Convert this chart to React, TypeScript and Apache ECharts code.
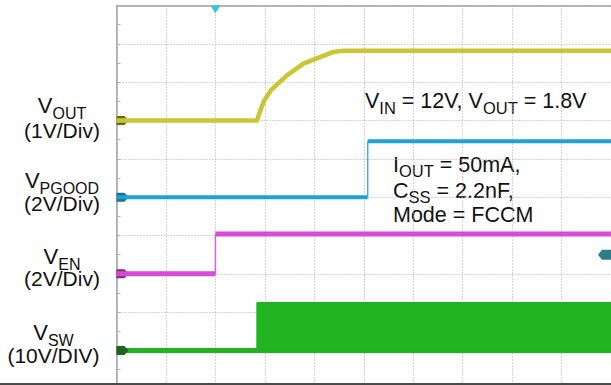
import React, { useEffect, useRef } from "react";
import * as echarts from "echarts";

// ---- Data (time in divisions, level in divisions from bottom grid line) ----
const voutTime = [0, 2.84, 2.92, 2.99, 3.13, 3.46, 3.79, 4.13, 4.39, 4.59, 10];
const voutLevel = [7.0, 7.0, 7.3, 7.53, 7.8, 8.19, 8.49, 8.66, 8.79, 8.82, 8.82];

const pgoodTime = [0, 5.08, 5.08, 10];
const pgoodLevel = [5.0, 5.0, 6.46, 6.46];

const enTime = [0, 2.0, 2.0, 10];
const enLevel = [3.0, 3.0, 4.04, 4.04];

const swTime = [0, 2.84, 2.84];
const swLevel = [1.0, 1.0, 2.25];
const swBurstTime = [2.84, 10];
const swBurstHigh = [2.25, 2.25];
const swBurstLow = [1.0, 1.0];

const groundLevels = [7, 5, 3, 1];
const triggerTime = 2.0;
const triggerLevel = 3.5;

const FONT = "Arial, 'Liberation Sans', Helvetica, sans-serif";
const TRACE_COLORS = ["#c9c631", "#1ea0d8", "#d94ad9", "#22b322"];
const TAG_COLORS = ["#6a6a1c", "#1f6f90", "#7a2c7a", "#1c631c"];

let measureCtx: CanvasRenderingContext2D | null = null;
function textWidth(t: string, size: number) {
  if (!measureCtx) measureCtx = document.createElement("canvas").getContext("2d");
  measureCtx!.font = `${size}px ${FONT}`;
  return measureCtx!.measureText(t).width;
}

type Seg = [string, number, number];
function runs(segs: Seg[], x: number, baseline: number, anchor: "left" | "center") {
  const widths = segs.map((s) => textWidth(s[0], s[1]));
  const total = widths.reduce((a, b) => a + b, 0);
  let cx = anchor === "center" ? x - total / 2 : x;
  return segs.map((s, i) => {
    const el = {
      type: "text",
      silent: true,
      style: {
        text: s[0],
        x: cx,
        y: baseline + s[2] - 0.3465 * s[1],
        font: `${s[1]}px ${FONT}`,
        fill: "#111",
        align: "left",
        verticalAlign: "middle",
        textAlign: "left",
        textVerticalAlign: "middle",
      },
    };
    cx += widths[i];
    return el;
  });
}

function traceSeries(time: number[], level: number[], color: string, thick: number, z: number) {
  const out: any[] = [];
  let run: number[][] = [[time[0], level[0]]];
  const flush = () => {
    if (run.length > 1) {
      out.push({
        type: "line", data: run, symbol: "none", silent: true, z,
        lineStyle: { color, width: thick, cap: "butt", join: "round" },
      });
    }
  };
  for (let i = 1; i < time.length; i++) {
    if (time[i] === time[i - 1]) {
      flush();
      out.push({
        type: "line", data: [[time[i - 1], level[i - 1]], [time[i], level[i]]], symbol: "none", silent: true, z: z - 1,
        lineStyle: { color, width: 1.5, opacity: 0.85 },
      });
      run = [[time[i], level[i]]];
    } else {
      run.push([time[i], level[i]]);
    }
  }
  flush();
  return out;
}

const tagRight = "path://M0,0 L8,0 L12,4.5 L8,9 L0,9 Z";
const tagLeft = "path://M4,0 L14,0 L14,10 L4,10 L0,5 Z";

export default function App() {
  const ref = useRef<HTMLDivElement>(null);
  useEffect(() => {
    if (!ref.current) return;
    const chart = echarts.init(ref.current, undefined, { renderer: "svg" });

    const series: any[] = [];
    // switching burst block
    series.push({
      type: "line",
      data: swBurstTime.map((t, i) => [t, swBurstHigh[i]]),
      symbol: "none", silent: true, z: 2,
      lineStyle: { color: "#1fae1f", width: 1 },
      areaStyle: { color: "#22b522", opacity: 1, origin: swBurstLow[0] },
    });
    series.push({
      type: "line",
      data: swBurstTime.map((t, i) => [t, swBurstLow[i]]),
      symbol: "none", silent: true, z: 3,
      lineStyle: { color: TRACE_COLORS[3], width: 5 },
    });
    series.push(...traceSeries(swTime, swLevel, TRACE_COLORS[3], 5, 4));
    series.push(...traceSeries(enTime, enLevel, TRACE_COLORS[2], 5, 5));
    series.push(...traceSeries(pgoodTime, pgoodLevel, TRACE_COLORS[1], 4, 6));
    series.push(...traceSeries(voutTime, voutLevel, TRACE_COLORS[0], 4.5, 7));

    // channel ground tags and trigger markers
    series.push({
      type: "scatter",
      silent: true,
      z: 10,
      data: [],
      markPoint: {
        silent: true,
        label: { show: false },
        data: [
          ...groundLevels.map((g, i) => ({
            coord: [0, g], symbol: tagRight, symbolSize: [12, 9], symbolOffset: [6, 0],
            itemStyle: { color: TAG_COLORS[i] },
          })),
          {
            coord: [triggerTime, 10], symbol: "triangle", symbolRotate: 180, symbolSize: [10, 8], symbolOffset: [0, 4],
            itemStyle: { color: "#37c8d8" },
          },
          {
            coord: [10, triggerLevel], symbol: tagLeft, symbolSize: [14, 10], symbolOffset: [-6, 0],
            itemStyle: { color: "#2c7e86" },
          },
        ],
      },
    });

    const graphic: any[] = [
      ...runs([["V", 22, 0], ["OUT", 16, 6]], 62, 113, "center"),
      ...runs([["(1V/Div)", 21, 0]], 62, 138, "center"),
      ...runs([["V", 22, 0], ["PGOOD", 16, 6]], 62, 188.5, "center"),
      ...runs([["(2V/Div)", 21, 0]], 62, 211, "center"),
      ...runs([["V", 22, 0], ["EN", 16, 6]], 62, 264, "center"),
      ...runs([["(2V/Div)", 21, 0]], 62, 286, "center"),
      ...runs([["V", 22, 0], ["SW", 16, 6]], 53.5, 340, "center"),
      ...runs([["(10V/DIV)", 21, 0]], 53.5, 362.5, "center"),
      ...runs([["V", 21.5, 0], ["IN", 16.5, 5], [" = 12V, V", 21.5, 0], ["OUT", 16.5, 5], [" = 1.8V", 21.5, 0]], 365, 108.5, "left"),
      ...runs([["I", 21.5, 0], ["OUT", 16.5, 5], [" = 50mA,", 21.5, 0]], 393, 172, "left"),
      ...runs([["C", 21.5, 0], ["SS", 16.5, 5], [" = 2.2nF,", 21.5, 0]], 393, 198, "left"),
      ...runs([["Mode = FCCM", 21.5, 0]], 393, 222.7, "left"),
    ];

    const gridLine = { show: true, lineStyle: { color: "#a9a9a9", type: [1, 2], width: 1 } };
    chart.setOption({
      animation: false,
      backgroundColor: "#ffffff",
      grid: { left: 116.5, top: 5.5, width: 500, height: 383.3, containLabel: false },
      xAxis: {
        type: "value", min: 0, max: 10, interval: 1, position: "top",
        axisLine: { show: true, onZero: false, lineStyle: { color: "#a0a0a0", width: 1.5 } },
        axisTick: { show: false }, axisLabel: { show: false },
        splitLine: gridLine,
      },
      yAxis: {
        type: "value", min: 0, max: 10, interval: 1,
        axisLine: { show: true, onZero: false, lineStyle: { color: "#a0a0a0", width: 1.5 } },
        axisTick: { show: true, inside: true, length: 4, lineStyle: { color: "#b4b4b4" } },
        minorTick: { show: true, splitNumber: 2, length: 4, lineStyle: { color: "#b4b4b4" } },
        axisLabel: { show: false },
        splitLine: gridLine,
      },
      series,
      graphic,
    });
    return () => chart.dispose();
  }, []);

  return (
    <div
      style={{
        position: "fixed", left: 0, top: 0, width: 611, height: 383,
        borderBottom: "2px solid #4a4a4a", background: "#fff", overflow: "hidden",
      }}
    >
      <div ref={ref} style={{ width: 611, height: 400 }} />
    </div>
  );
}
